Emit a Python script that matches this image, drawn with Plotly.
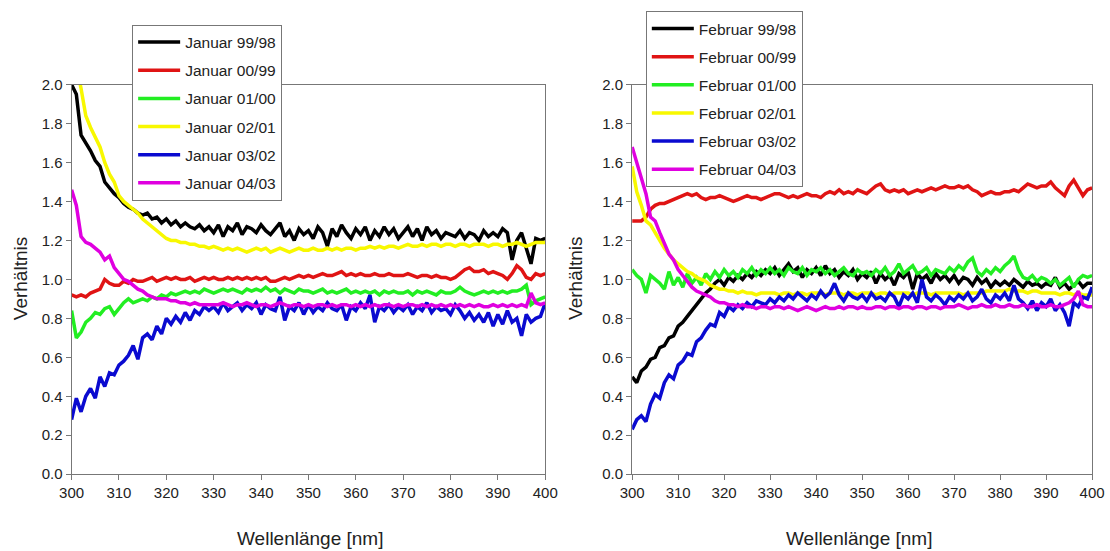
import plotly.graph_objects as go

wavelength = list(range(300, 401))

jan_names = ["Januar 99/98", "Januar 00/99", "Januar 01/00", "Januar 02/01", "Januar 03/02", "Januar 04/03"]
feb_names = ["Februar 99/98", "Februar 00/99", "Februar 01/00", "Februar 02/01", "Februar 03/02", "Februar 04/03"]
colors = ["#000000", "#e01414", "#22ee22", "#f8f800", "#0a0ad0", "#e000e0"]

jan_9998 = [2.00, 1.95, 1.74, 1.70, 1.66, 1.61, 1.58, 1.50, 1.47, 1.44,
            1.42, 1.39, 1.37, 1.36, 1.34, 1.33, 1.34, 1.31, 1.32, 1.29,
            1.31, 1.28, 1.30, 1.27, 1.29, 1.27, 1.26, 1.28, 1.25, 1.27,
            1.24, 1.28, 1.22, 1.27, 1.25, 1.29, 1.23, 1.27, 1.26, 1.24,
            1.28, 1.25, 1.23, 1.26, 1.29, 1.22, 1.25, 1.20, 1.26, 1.23,
            1.25, 1.21, 1.27, 1.24, 1.17, 1.26, 1.22, 1.28, 1.24, 1.21,
            1.26, 1.23, 1.27, 1.20, 1.25, 1.22, 1.27, 1.23, 1.26, 1.21,
            1.24, 1.27, 1.22, 1.26, 1.20, 1.27, 1.23, 1.25, 1.21, 1.24,
            1.23, 1.22, 1.25, 1.21, 1.24, 1.23, 1.20, 1.25, 1.22, 1.24,
            1.22, 1.26, 1.24, 1.10, 1.20, 1.24, 1.16, 1.08, 1.21, 1.20,
            1.21]
jan_0099 = [0.92, 0.91, 0.92, 0.91, 0.93, 0.94, 0.95, 1.00, 0.98, 0.97,
            0.97, 0.99, 0.98, 1.00, 0.99, 0.99, 1.00, 1.01, 0.99, 1.00,
            1.01, 1.00, 1.01, 1.00, 1.00, 1.01, 0.99, 1.00, 1.01, 1.00,
            1.01, 1.00, 1.00, 1.01, 1.00, 1.01, 1.00, 1.01, 1.00, 1.01,
            1.00, 1.01, 0.99, 0.99, 1.00, 1.01, 1.00, 1.01, 1.02, 1.01,
            1.02, 1.01, 1.02, 1.03, 1.02, 1.02, 1.03, 1.04, 1.02, 1.03,
            1.02, 1.03, 1.02, 1.02, 1.03, 1.02, 1.02, 1.03, 1.02, 1.02,
            1.02, 1.03, 1.02, 1.01, 1.02, 1.02, 1.01, 1.02, 1.01, 1.01,
            1.00, 1.01, 1.03, 1.05, 1.06, 1.04, 1.04, 1.05, 1.03, 1.04,
            1.03, 1.02, 1.00, 1.03, 1.07, 1.05, 1.01, 1.00, 1.03, 1.02,
            1.03]
jan_0100 = [0.84, 0.70, 0.73, 0.78, 0.80, 0.83, 0.82, 0.85, 0.86, 0.82,
            0.85, 0.88, 0.90, 0.88, 0.89, 0.90, 0.89, 0.91, 0.90, 0.92,
            0.91, 0.93, 0.92, 0.93, 0.94, 0.93, 0.94, 0.93, 0.95, 0.94,
            0.93, 0.94, 0.95, 0.94, 0.95, 0.94, 0.93, 0.95, 0.94, 0.95,
            0.94, 0.96, 0.94, 0.95, 0.93, 0.95, 0.94, 0.93, 0.95, 0.94,
            0.94, 0.93, 0.94, 0.95, 0.93, 0.94, 0.93, 0.94, 0.95, 0.93,
            0.94, 0.93, 0.94, 0.93, 0.94, 0.92, 0.94, 0.93, 0.94, 0.93,
            0.93, 0.94, 0.92, 0.94, 0.93, 0.94, 0.93, 0.92, 0.94, 0.93,
            0.93, 0.94, 0.96, 0.94, 0.93, 0.92, 0.93, 0.94, 0.93, 0.94,
            0.93, 0.94, 0.93, 0.94, 0.94, 0.95, 0.97, 0.87, 0.89, 0.90,
            0.91]
jan_0201 = [2.20, 2.10, 1.98, 1.84, 1.78, 1.73, 1.68, 1.60, 1.54, 1.50,
            1.43, 1.40, 1.38, 1.36, 1.34, 1.31, 1.29, 1.27, 1.25, 1.23,
            1.21, 1.20, 1.20, 1.19, 1.19, 1.18, 1.18, 1.17, 1.17, 1.16,
            1.17, 1.16, 1.15, 1.16, 1.15, 1.16, 1.15, 1.14, 1.15, 1.16,
            1.15, 1.16, 1.14, 1.15, 1.16, 1.15, 1.14, 1.15, 1.16, 1.15,
            1.15, 1.16, 1.15, 1.15, 1.16, 1.15, 1.16, 1.15, 1.16, 1.16,
            1.15, 1.16, 1.16, 1.17, 1.16, 1.17, 1.16, 1.17, 1.17, 1.16,
            1.17, 1.18, 1.17, 1.17, 1.18, 1.17, 1.18, 1.18, 1.17, 1.18,
            1.18, 1.17, 1.18, 1.18, 1.17, 1.18, 1.18, 1.18, 1.17, 1.18,
            1.18, 1.17, 1.18, 1.18, 1.19, 1.18, 1.17, 1.18, 1.19, 1.19,
            1.19]
jan_0302 = [0.28, 0.39, 0.32, 0.40, 0.44, 0.39, 0.50, 0.45, 0.52, 0.51,
            0.56, 0.58, 0.61, 0.66, 0.59, 0.70, 0.72, 0.69, 0.76, 0.72,
            0.80, 0.77, 0.81, 0.78, 0.83, 0.79, 0.84, 0.82, 0.86, 0.84,
            0.86, 0.83, 0.88, 0.84, 0.86, 0.88, 0.84, 0.87, 0.85, 0.88,
            0.82, 0.87, 0.85, 0.84, 0.91, 0.79, 0.86, 0.84, 0.88, 0.82,
            0.87, 0.83, 0.86, 0.84, 0.88, 0.85, 0.84, 0.87, 0.79, 0.86,
            0.84, 0.88, 0.85, 0.92, 0.78, 0.86, 0.84, 0.87, 0.83, 0.86,
            0.84, 0.87, 0.82, 0.86, 0.84, 0.88, 0.83, 0.86, 0.84, 0.85,
            0.82, 0.87, 0.84, 0.80, 0.83, 0.79, 0.82, 0.78, 0.83, 0.76,
            0.82, 0.77, 0.84, 0.78, 0.80, 0.71, 0.82, 0.78, 0.80, 0.81,
            0.88]
jan_0403 = [1.46, 1.38, 1.22, 1.19, 1.18, 1.16, 1.14, 1.10, 1.12, 1.06,
            1.03, 1.00, 0.99, 0.97, 0.95, 0.94, 0.92, 0.91, 0.90, 0.90,
            0.90, 0.89, 0.89, 0.88, 0.88, 0.87, 0.88, 0.87, 0.87, 0.87,
            0.87, 0.87, 0.88, 0.87, 0.86, 0.87, 0.87, 0.88, 0.87, 0.86,
            0.87, 0.87, 0.86, 0.87, 0.88, 0.87, 0.86, 0.87, 0.87, 0.86,
            0.87, 0.86, 0.87, 0.87, 0.86, 0.87, 0.86, 0.87, 0.87, 0.86,
            0.87, 0.86, 0.87, 0.86, 0.87, 0.86, 0.87, 0.87, 0.86, 0.87,
            0.86, 0.87, 0.87, 0.86, 0.87, 0.86, 0.87, 0.86, 0.87, 0.86,
            0.87, 0.86, 0.87, 0.86, 0.87, 0.86, 0.87, 0.86, 0.86, 0.87,
            0.86, 0.87, 0.86, 0.87, 0.86, 0.87, 0.86, 0.93, 0.88, 0.87,
            0.88]

feb_9998 = [0.50, 0.47, 0.53, 0.55, 0.59, 0.60, 0.65, 0.66, 0.70, 0.71,
            0.76, 0.78, 0.81, 0.84, 0.87, 0.90, 0.93, 0.95, 0.98, 1.00,
            0.97, 1.01, 0.99, 1.02, 1.00, 1.03, 1.01, 1.04, 1.02, 1.05,
            1.03, 1.06, 1.02, 1.05, 1.08, 1.04, 1.06, 1.01, 1.05, 1.03,
            1.06, 1.02, 1.07, 1.03, 1.05, 1.01, 1.04, 1.02, 1.05, 1.00,
            1.03, 1.01, 1.04, 0.98, 1.03, 1.00, 1.02, 0.97, 1.03, 1.01,
            1.04, 0.95, 1.03, 1.00, 1.02, 0.98, 1.03, 1.00, 1.02, 0.99,
            1.02, 0.98, 1.01, 1.00, 0.97, 1.01, 0.98, 1.00, 0.96, 0.99,
            0.97, 0.99, 0.97, 1.00, 0.98, 0.96, 0.99, 0.97, 0.98, 0.96,
            0.98, 0.97, 1.01, 0.96, 0.98, 0.95, 0.97, 0.99, 0.96, 0.98,
            0.98]
feb_0099 = [1.30, 1.30, 1.30, 1.32, 1.36, 1.38, 1.39, 1.39, 1.40, 1.41,
            1.42, 1.43, 1.44, 1.43, 1.44, 1.42, 1.41, 1.42, 1.42, 1.43,
            1.42, 1.41, 1.40, 1.41, 1.42, 1.43, 1.42, 1.42, 1.41, 1.42,
            1.43, 1.44, 1.44, 1.43, 1.42, 1.43, 1.42, 1.43, 1.44, 1.43,
            1.43, 1.42, 1.44, 1.45, 1.44, 1.46, 1.44, 1.45, 1.44, 1.46,
            1.45, 1.44, 1.46, 1.48, 1.49, 1.46, 1.45, 1.46, 1.45, 1.46,
            1.44, 1.45, 1.46, 1.45, 1.46, 1.47, 1.46, 1.47, 1.48, 1.47,
            1.47, 1.48, 1.47, 1.48, 1.46, 1.45, 1.43, 1.44, 1.45, 1.44,
            1.44, 1.45, 1.45, 1.46, 1.45, 1.47, 1.49, 1.48, 1.47, 1.48,
            1.48, 1.50, 1.47, 1.45, 1.43, 1.48, 1.51, 1.47, 1.43, 1.46,
            1.47]
feb_0100 = [1.05, 1.02, 1.00, 0.93, 1.02, 1.00, 0.98, 0.95, 1.04, 0.97,
            1.01, 0.96, 1.03, 0.98, 1.01, 0.97, 1.03, 1.00, 1.04, 1.01,
            1.05, 1.02, 1.04, 1.01, 1.05, 1.03, 1.06, 1.02, 1.05, 1.03,
            1.06, 1.03, 1.05, 1.02, 1.06, 1.04, 1.03, 1.06, 1.02, 1.05,
            1.04, 1.06, 1.03, 1.05, 1.02, 1.04, 1.06, 1.03, 1.02, 1.05,
            1.03, 1.04, 1.02, 1.05, 1.03, 1.06, 1.02, 1.04, 1.08, 1.03,
            1.05, 1.07, 1.03, 1.04, 1.06, 1.02, 1.05, 1.04, 1.03, 1.06,
            1.04, 1.07, 1.05, 1.09, 1.11, 1.04, 1.02, 1.05, 1.03, 1.06,
            1.04, 1.07, 1.09, 1.12, 1.05, 1.01, 1.00, 1.02, 0.99, 1.01,
            1.00, 0.98, 1.00, 0.97, 0.99, 1.01, 0.96, 1.00, 1.02, 1.01,
            1.02]
feb_0201 = [1.58, 1.45, 1.38, 1.30, 1.28, 1.24, 1.20, 1.16, 1.13, 1.10,
            1.08, 1.06, 1.04, 1.03, 1.01, 1.00, 0.99, 0.97, 0.96, 0.95,
            0.95, 0.94, 0.94, 0.93, 0.94, 0.93, 0.93, 0.92, 0.93, 0.93,
            0.93, 0.93, 0.92, 0.93, 0.93, 0.92, 0.93, 0.93, 0.92, 0.93,
            0.93, 0.93, 0.92, 0.93, 0.93, 0.93, 0.92, 0.93, 0.93, 0.92,
            0.93, 0.93, 0.93, 0.92, 0.93, 0.93, 0.92, 0.93, 0.93, 0.93,
            0.93, 0.92, 0.93, 0.93, 0.93, 0.92, 0.93, 0.93, 0.93, 0.93,
            0.93, 0.93, 0.92, 0.93, 0.93, 0.93, 0.93, 0.94, 0.94, 0.94,
            0.94, 0.94, 0.95, 0.94, 0.94, 0.94, 0.93, 0.94, 0.94, 0.93,
            0.93, 0.93, 0.93, 0.92, 0.93, 0.93, 0.92, 0.93, 0.92, 0.92,
            0.92]
feb_0302 = [0.23, 0.28, 0.30, 0.27, 0.36, 0.41, 0.39, 0.47, 0.51, 0.49,
            0.56, 0.58, 0.62, 0.61, 0.68, 0.70, 0.74, 0.77, 0.76, 0.83,
            0.81, 0.86, 0.84, 0.87, 0.85, 0.88, 0.86, 0.89, 0.88, 0.87,
            0.90, 0.88, 0.91, 0.89, 0.92, 0.90, 0.93, 0.91, 0.89, 0.92,
            0.90, 0.94, 0.91, 0.93, 0.98, 0.92, 0.89, 0.93, 0.91, 0.90,
            0.92, 0.89, 0.93, 0.90, 0.91, 0.89, 0.93, 0.91, 0.86, 0.92,
            0.90, 0.93, 0.88, 1.00, 0.91, 0.89, 0.92, 0.90, 0.87, 0.91,
            0.89, 0.92, 0.90, 0.93, 0.89, 0.91, 0.95, 0.90, 0.88, 0.92,
            0.90, 0.93, 0.89, 0.97, 0.90, 0.88, 0.85, 0.89, 0.84, 0.88,
            0.86, 0.90, 0.84, 0.87, 0.83, 0.76, 0.88, 0.86, 0.91, 0.90,
            0.96]
feb_0403 = [1.68, 1.60, 1.53, 1.44, 1.32, 1.30, 1.24, 1.18, 1.13, 1.10,
            1.05, 1.02, 0.99, 0.96, 0.94, 0.93, 0.92, 0.91, 0.89, 0.88,
            0.88, 0.87, 0.87, 0.86, 0.87, 0.86, 0.86, 0.85, 0.86, 0.86,
            0.85, 0.86, 0.86, 0.85, 0.86, 0.85, 0.84, 0.85, 0.86, 0.85,
            0.84, 0.85, 0.86, 0.85, 0.85, 0.86, 0.85, 0.86, 0.86, 0.85,
            0.86, 0.85, 0.85, 0.86, 0.86, 0.85, 0.86, 0.86, 0.85, 0.86,
            0.86, 0.85, 0.86, 0.86, 0.85, 0.86, 0.86, 0.85, 0.86, 0.86,
            0.86, 0.87, 0.86, 0.85, 0.86, 0.86, 0.87, 0.86, 0.86, 0.87,
            0.86, 0.86, 0.87, 0.86, 0.86, 0.87, 0.86, 0.86, 0.87, 0.86,
            0.86, 0.87, 0.86, 0.86, 0.87, 0.88, 0.90, 0.94, 0.87, 0.86,
            0.86]

jan_series = [jan_9998, jan_0099, jan_0100, jan_0201, jan_0302, jan_0403]
feb_series = [feb_9998, feb_0099, feb_0100, feb_0201, feb_0302, feb_0403]

x_ticks = list(range(300, 401, 10))
y_ticks = [0.0, 0.2, 0.4, 0.6, 0.8, 1.0, 1.2, 1.4, 1.6, 1.8, 2.0]

W, H = 1110, 551
FONT = "Liberation Sans, Arial, sans-serif"

fig = go.Figure()
for name, ys, c in zip(jan_names, jan_series, colors):
    fig.add_trace(go.Scatter(x=wavelength, y=ys, mode="lines", name=name,
                             line=dict(color=c, width=3.5), legend="legend",
                             legendgroup=name, xaxis="x", yaxis="y"))
for name, ys, c in zip(feb_names, feb_series, colors):
    fig.add_trace(go.Scatter(x=wavelength, y=ys, mode="lines", name=name,
                             line=dict(color=c, width=3.5), legend="legend2",
                             legendgroup=name, xaxis="x2", yaxis="y2"))

def px_x(p):
    return p / W

def px_y(p):
    return 1 - p / H

axis_common = dict(showline=True, linecolor="#777777", linewidth=1, mirror=True,
                   ticks="outside", ticklen=5, tickcolor="#777777", showgrid=False,
                   zeroline=False, tickfont=dict(family=FONT, size=15, color="#222222"))

leg_common = dict(xanchor="left", yanchor="top", bgcolor="white",
                  bordercolor="#777777", borderwidth=1,
                  font=dict(family=FONT, size=15.5, color="#222222"),
                  tracegroupgap=5, itemwidth=42)

fig.update_layout(
    width=W, height=H,
    margin=dict(l=0, r=0, t=0, b=0),
    paper_bgcolor="white", plot_bgcolor="white",
    font=dict(family=FONT, color="#222222"),
    xaxis=dict(domain=[px_x(60), px_x(545)], range=[300, 400], tickvals=x_ticks,
               anchor="y", **axis_common),
    yaxis=dict(domain=[px_y(480), px_y(78)], range=[0, 2.0], tickvals=y_ticks,
               tickformat=".1f", anchor="x", **axis_common),
    xaxis2=dict(domain=[px_x(634), px_x(1105)], range=[300, 400], tickvals=x_ticks,
                anchor="y2", **axis_common),
    yaxis2=dict(domain=[px_y(480), px_y(78)], range=[0, 2.0], tickvals=y_ticks,
                tickformat=".1f", anchor="x2", **axis_common),
    legend=dict(x=px_x(122), y=px_y(16), **leg_common),
    legend2=dict(x=px_x(648), y=px_y(2), **leg_common),
    showlegend=True,
)

for xc in (8, 576):
    fig.add_annotation(x=px_x(xc), y=px_y(278), xref="paper", yref="paper",
                       xanchor="center", yanchor="middle",
                       text="Verhältnis", textangle=-90, showarrow=False,
                       font=dict(family=FONT, size=19, color="#222222"))
for xc in (304, 866):
    fig.add_annotation(x=px_x(xc), y=px_y(546), xref="paper", yref="paper",
                       xanchor="center", yanchor="middle",
                       text="Wellenlänge [nm]", showarrow=False,
                       font=dict(family=FONT, size=19, color="#222222"))

fig.write_html("out.html")
